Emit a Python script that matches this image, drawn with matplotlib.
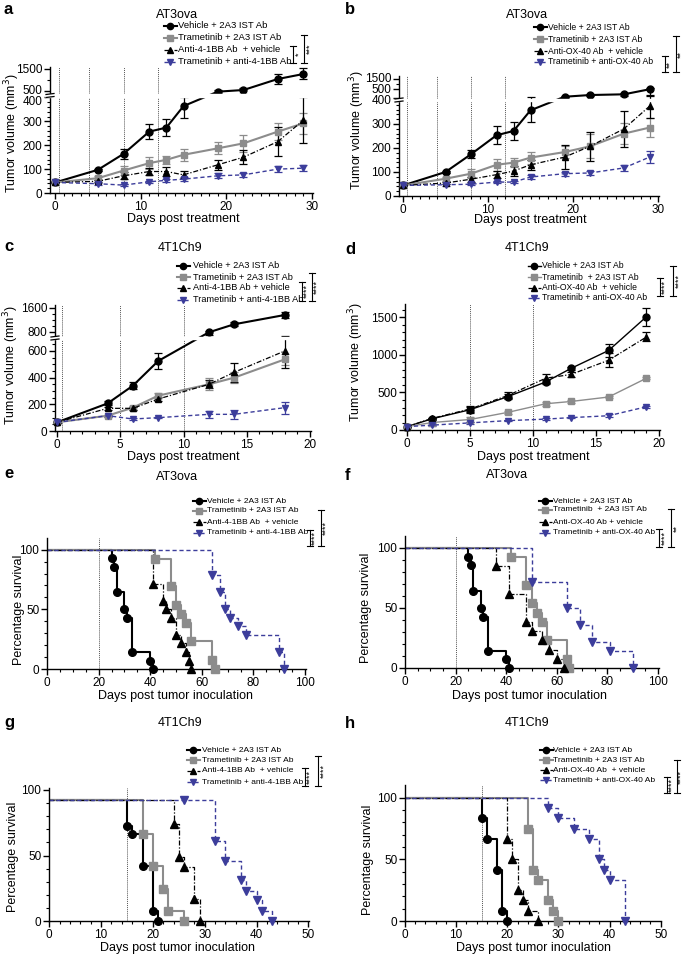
import numpy as np
import matplotlib.pyplot as plt
import matplotlib.transforms as mtrans
from matplotlib.lines import Line2D
from matplotlib.patches import Rectangle

plt.rcParams['font.family'] = ['Liberation Sans', 'DejaVu Sans']
plt.rcParams['axes.linewidth'] = 1.0

W, H = 685, 958
GREY = '#8c8c8c'
BLUE = '#3c3d9b'

# ---------------- tumour growth data (mean, sem) ----------------
a_days = [0, 5, 8, 11, 13, 15, 19, 22, 26, 29]
a_veh = [44, 97, 164, 257, 274, 364, 490, 545, 1045, 1273]
a_veh_err = [3, 5, 20, 30, 37, 50, 65, 95, 225, 250]
a_tra = [44, 62, 94, 125, 139, 160, 187, 208, 257, 292]
a_tra_err = [3, 8, 18, 25, 18, 25, 25, 35, 35, 45]
a_ab = [44, 49, 72, 90, 90, 76, 118, 150, 215, 305]
a_ab_err = [3, 5, 15, 15, 18, 15, 20, 30, 60, 95]
a_combo = [44, 39, 33, 47, 53, 58, 72, 76, 100, 104]
a_combo_err = [3, 4, 5, 5, 5, 8, 10, 8, 12, 12]

b_days = [0, 5, 8, 11, 13, 15, 19, 22, 26, 29]
b_veh = [44, 100, 174, 253, 271, 357, 414, 433, 441, 497]
b_veh_err = [3, 5, 16, 37, 37, 50, 8, 8, 20, 60]
b_tra = [44, 72, 93, 130, 139, 160, 183, 207, 260, 285]
b_tra_err = [3, 8, 20, 25, 20, 25, 25, 50, 45, 40]
b_ab = [44, 54, 70, 89, 104, 130, 162, 207, 280, 374]
b_ab_err = [3, 5, 10, 15, 20, 20, 50, 60, 75, 50]
b_combo = [44, 47, 49, 58, 58, 79, 93, 96, 117, 162]
b_combo_err = [3, 4, 5, 5, 5, 8, 8, 8, 12, 25]

c_days = [0, 4, 6, 8, 12, 14, 18]
c_veh = [65, 207, 340, 525, 795, 1057, 1367]
c_veh_err = [5, 15, 25, 60, 40, 60, 90]
c_tra = [65, 115, 175, 265, 350, 400, 537]
c_tra_err = [5, 8, 15, 20, 45, 40, 40]
c_ab = [65, 170, 170, 240, 350, 440, 600]
c_ab_err = [5, 10, 10, 15, 30, 70, 130]
c_combo = [65, 115, 90, 100, 125, 125, 175]
c_combo_err = [5, 8, 5, 5, 25, 35, 45]

d_days = [0, 2, 5, 8, 11, 13, 16, 19]
d_veh = [45, 150, 270, 445, 640, 820, 1060, 1510]
d_veh_err = [5, 15, 40, 35, 30, 20, 90, 120]
d_ab = [45, 155, 280, 460, 690, 740, 930, 1240]
d_ab_err = [5, 10, 40, 40, 60, 30, 90, 60]
d_tra = [45, 100, 140, 235, 350, 380, 440, 690]
d_tra_err = [5, 10, 30, 20, 25, 25, 10, 10]
d_combo = [45, 65, 95, 125, 145, 165, 190, 310]
d_combo_err = [3, 5, 10, 10, 10, 10, 20, 10]

# ---------------- survival data (event day, % surviving) ----------------
e_veh_t = [25, 26, 27, 30, 31, 33, 40, 41]
e_veh_s = [92.9, 85.7, 64.3, 50, 42.9, 14.3, 7.1, 0]
e_tra_t = [42, 48, 50, 52, 54, 56, 64, 65]
e_tra_s = [92.3, 69.2, 53.8, 46.2, 38.5, 23.1, 7.7, 0]
e_ab_t = [41, 45, 46, 48, 50, 52, 54, 55, 56]
e_ab_s = [71.4, 57.1, 50, 42.9, 28.6, 21.4, 14.3, 7.1, 0]
e_combo_t = [64, 67, 69, 71, 74, 77, 90, 92]
e_combo_s = [78.6, 64.3, 50, 42.9, 35.7, 28.6, 14.3, 0]

f_veh_t = [25, 26, 27, 30, 31, 33, 40, 41]
f_veh_s = [92.9, 85.7, 64.3, 50, 42.9, 14.3, 7.1, 0]
f_tra_t = [42, 48, 50, 52, 54, 56, 64, 65]
f_tra_s = [92.3, 69.2, 53.8, 46.2, 38.5, 23.1, 7.7, 0]
f_ab_t = [36, 41, 48, 50, 54, 57, 60, 63]
f_ab_s = [84.6, 61.5, 38.5, 30.8, 23.1, 15.4, 7.7, 0]
f_combo_t = [50, 64, 69, 74, 81, 90]
f_combo_s = [71.4, 50, 35.7, 21.4, 14.3, 0]

g_start = 92.1
g_veh_t = [15, 16, 18, 20, 21]
g_veh_s = [72.5, 66.2, 42, 7.9, 0]
g_tra_t = [18, 20, 22, 23, 26]
g_tra_s = [66.2, 42, 24.4, 7.9, 0]
g_ab_t = [24, 25, 26, 28, 29]
g_ab_s = [74, 49.1, 41.5, 16.8, 0]
g_combo_t = [26, 32, 34, 37, 38, 40, 41, 43]
g_combo_s = [92.1, 61, 45.8, 31.3, 23.2, 16, 7.9, 0]

h_veh_t = [15, 16, 18, 19, 20]
h_veh_s = [83.3, 66.7, 41.7, 8.3, 0]
h_ab_t = [20, 21, 22, 23, 24, 26]
h_ab_s = [66.7, 50, 25, 16.7, 8.3, 0]
h_tra_t = [24, 25, 26, 28, 29, 30]
h_tra_s = [75, 41.7, 33.3, 16.7, 8.3, 0]
h_combo_t = [28, 30, 33, 36, 38, 39, 40, 43]
h_combo_s = [91.7, 83.3, 75, 66.7, 50, 41.7, 33.3, 0]

lab_4bb = ['Vehicle + 2A3 IST Ab', 'Trametinib + 2A3 IST Ab',
           'Anti-4-1BB Ab  + vehicle', 'Trametinib + anti-4-1BB Ab']
lab_ox = ['Vehicle + 2A3 IST Ab', 'Trametinib + 2A3 IST Ab',
          'Anti-OX-40 Ab  + vehicle', 'Trametinib + anti-OX-40 Ab']

DASHDOT = (4, 1.5, 1, 1.5)
STY = [dict(color='black', marker='o', lw=1.5, dashes=None),
       dict(color=GREY, marker='s', lw=1.5, dashes=None),
       dict(color='black', marker='^', lw=0.9, dashes=DASHDOT),
       dict(color=BLUE, marker='v', lw=1.0, dashes=(3, 2))]

fig = plt.figure(figsize=(W / 100, H / 100), dpi=100)


def fx(x):
    return x / W


def fy(y):
    return 1 - y / H


def add_ax(left, top, right, bottom):
    ax = fig.add_axes([fx(left), fy(bottom), (right - left) / W, (bottom - top) / H])
    ax.spines['top'].set_visible(False)
    ax.spines['right'].set_visible(False)
    ax.tick_params(direction='out', length=4, width=1, labelsize=8.5, pad=1.5)
    ax.tick_params(which='minor', length=2, width=0.8)
    ax.patch.set_alpha(0)
    return ax


def set_x(ax, left, right, px0, px1, v1, ticks, minor):
    s = (px1 - px0) / v1
    ax.set_xlim((left - px0) / s, (right - px0) / s)
    ax.set_xticks(ticks)
    ax.set_xticks(minor, minor=True)


def broken_y(ax, vals, pos, height, ticks, minor, nudge):
    fwd = lambda v: np.interp(v, vals, pos)
    inv = lambda p: np.interp(p, pos, vals)
    ax.set_yscale('function', functions=(fwd, inv))
    ax.set_ylim(0, inv(height))
    ax.set_yticks(ticks)
    ax.set_yticklabels([str(t) for t in ticks])
    ax.set_yticks(minor, minor=True)
    ax.yaxis.set_minor_formatter(plt.NullFormatter())
    # crowded labels around the break sit a little apart, as in the original
    for lab in ax.get_yticklabels():
        dy = nudge.get(lab.get_text(), 0)
        if dy:
            lab.set_transform(lab.get_transform() +
                              mtrans.ScaledTranslation(0, -dy / 100, fig.dpi_scale_trans))


def break_mark(left, right, y):
    fig.add_artist(Rectangle((fx(left - 5), fy(y + 1.2)), (right - left + 5) / W, 2.4 / H,
                             transform=fig.transFigure, color='white', zorder=5))
    for dy in (-1.5, 1.5):
        fig.add_artist(Line2D([fx(left - 4), fx(left + 4)], [fy(y + dy + 0.5), fy(y + dy - 0.5)],
                              transform=fig.transFigure, color='black', lw=0.9, zorder=6))


def tumor(ax, days, y, err, st, lw=None):
    ax.errorbar(days, y, yerr=err, fmt='none', ecolor=st['color'], elinewidth=0.9,
                capsize=3, capthick=0.9, zorder=3)
    ln, = ax.plot(days, y, color=st['color'], lw=lw or st['lw'], marker=st['marker'],
                  ms=5, zorder=4, clip_on=False)
    if st['dashes']:
        ln.set_dashes(st['dashes'])


def surv(ax, t, s, st, start=100):
    ln, = ax.step([0] + list(t), [start] + list(s), where='post', color=st['color'], lw=st['lw'])
    if st['dashes']:
        ln.set_dashes(st['dashes'])
    ax.plot(t, s, ls='none', marker=st['marker'], color=st['color'], ms=5.5, clip_on=False, zorder=4)


def legend(xm, xt, ys, labels, fs, lws=None):
    for i, (y, lab) in enumerate(zip(ys, labels)):
        st = STY[i]
        ln = Line2D([fx(xm - 6), fx(xm + 7)], [fy(y)] * 2, transform=fig.transFigure,
                    color=st['color'], lw=(lws[i] if lws else st['lw']))
        if st['dashes']:
            ln.set_dashes(st['dashes'])
        fig.add_artist(ln)
        fig.add_artist(Line2D([fx(xm)], [fy(y)], transform=fig.transFigure, color=st['color'],
                              marker=st['marker'], ms=4.5, ls='none'))
        fig.text(fx(xt), fy(y), lab, fontsize=fs, va='center', ha='left')


def bracket(x, y0, y1, stars, xt):
    kw = dict(transform=fig.transFigure, color='black', lw=0.8)
    fig.add_artist(Line2D([fx(x)] * 2, [fy(y0), fy(y1)], **kw))
    for yy in (y0, y1):
        fig.add_artist(Line2D([fx(x - 3), fx(x + 3)], [fy(yy)] * 2, **kw))
    fig.text(fx(xt), fy((y0 + y1) / 2), stars, rotation=90, fontsize=6.5,
             ha='center', va='center')


def labels(letter, lxy, title, txy, ylab, yxy, xlab, xxy):
    fig.text(fx(lxy[0]), fy(lxy[1]), letter, fontsize=12, fontweight='bold', ha='left', va='center')
    fig.text(fx(txy[0]), fy(txy[1]), title, fontsize=9, ha='center', va='center')
    fig.text(fx(yxy[0]), fy(yxy[1]), ylab, fontsize=9, rotation=90, ha='center', va='center')
    fig.text(fx(xxy[0]), fy(xxy[1]), xlab, fontsize=9, ha='center', va='center')


def vlines(ax, xs):
    for x in xs:
        ax.axvline(x, color='#555555', lw=0.7, ls=(0, (1, 1)), zorder=1)


TV = 'Tumor volume (mm$^3$)'
DPT = 'Days post treatment'
PS = 'Percentage survival'
DPI = 'Days post tumor inoculation'

# ---------------- a ----------------
ax = add_ax(50, 67, 313, 193)
set_x(ax, 50, 313, 55, 312, 30, [0, 10, 20, 30], range(0, 31))
broken_y(ax, [-1000, 0, 400, 500, 1500, 3000], [-238.75, 0, 95.5, 102, 124, 157], 126,
         [0, 100, 200, 300, 400, 500, 1500], [v for v in range(20, 400, 20) if v % 100] + [1000],
         {'400': 3.5, '500': -1.5})
vlines(ax, [0.5, 4, 8, 12])
for y, e, st in zip([a_veh, a_tra, a_ab, a_combo], [a_veh_err, a_tra_err, a_ab_err, a_combo_err], STY):
    tumor(ax, a_days, y, e, st)
break_mark(50, 313, 95.5)
labels('a', (4, 9), 'AT3ova', (177, 15), TV, (12, 133), DPT, (183, 219))
legend(170, 178, [26, 38, 50, 62], lab_4bb, 6.8)
bracket(293, 46, 63, '*', 299)
bracket(304, 35, 63, '***', 310)

# ---------------- b ----------------
ax = add_ax(399, 76, 659, 196)
set_x(ax, 399, 659, 403, 658, 30, [0, 10, 20, 30], range(0, 31))
broken_y(ax, [-1000, 0, 390, 400, 500, 1500, 3000], [-240, 0, 93.6, 98, 107, 117, 132], 120,
         [0, 100, 200, 300, 400, 500, 1500], [v for v in range(20, 390, 20) if v % 100] + [1000],
         {'400': 2.0, '500': -0.5, '1500': -2.0})
vlines(ax, [0.5, 4, 8, 12])
for y, e, st in zip([b_veh, b_tra, b_ab, b_combo], [b_veh_err, b_tra_err, b_ab_err, b_combo_err], STY):
    tumor(ax, b_days, y, e, st)
break_mark(399, 659, 100)
labels('b', (345, 9), 'AT3ova', (527, 15), TV, (357, 130), DPT, (530, 220))
legend(540, 548, [27, 39, 51, 62], lab_ox, 6.2)
bracket(665, 56, 72, '**', 670)
bracket(676, 36, 72, '**', 681)

# ---------------- c ----------------
ax = add_ax(55, 305, 311, 431)
set_x(ax, 55, 311, 57, 310, 20, [0, 5, 10, 15, 20], range(0, 21))
broken_y(ax, [-1000, 0, 690, 800, 1600, 3000], [-133.3, 0, 92, 99, 123, 165], 126,
         [0, 200, 400, 600, 800, 1600], [v for v in range(50, 690, 50) if v % 200] + [1000, 1200, 1400],
         {})
vlines(ax, [0.4, 5, 10])
for y, e, st in zip([c_veh, c_tra, c_ab, c_combo], [c_veh_err, c_tra_err, c_ab_err, c_combo_err], STY):
    tumor(ax, c_days, y, e, st)
break_mark(55, 311, 338)
labels('c', (4, 247), '4T1Ch9', (180, 248), TV, (11, 365), DPT, (183, 457))
legend(183, 193, [266, 277, 288, 300], lab_4bb[:2] + ['Anti-4-1BB Ab + vehicle', lab_4bb[3]], 6.6)
bracket(302, 282, 301, '****', 307)
bracket(312, 273, 301, '****', 317)

# ---------------- d ----------------
ax = add_ax(405, 304, 660, 430)
set_x(ax, 405, 660, 407, 659, 20, [0, 5, 10, 15, 20], range(0, 21))
ax.set_ylim(0, 126 / (37.5 / 500))
ax.set_yticks([0, 500, 1000, 1500])
ax.set_yticks(range(100, 1700, 100), minor=True)
vlines(ax, [5, 10])
for y, e, st in zip([d_veh, d_tra, d_ab, d_combo], [d_veh_err, d_tra_err, d_ab_err, d_combo_err], STY):
    tumor(ax, d_days, y, e, st, lw=1.0 if st['lw'] > 1 else None)
labels('d', (345, 250), '4T1Ch9', (527, 248), TV, (356, 362), DPT, (533, 457))
legend(534, 542, [266, 277, 288, 298],
       ['Vehicle + 2A3 IST Ab', 'Trametinib  + 2A3 IST Ab', 'Anti-OX-40 Ab  + vehicle',
        'Trametinib + anti-OX-40 Ab'], 6.2, lws=[1, 1, 0.9, 1])
bracket(660, 278, 296, '****', 665)
bracket(673, 266, 296, '****', 679)

# ---------------- e ----------------
ax = add_ax(47, 538, 306, 669)
set_x(ax, 47, 306, 47, 305, 100, [0, 20, 40, 60, 80, 100], range(0, 101, 5))
ax.set_ylim(0, 131 / (119.3 / 100))
ax.set_yticks([0, 50, 100])
ax.set_yticks(range(10, 110, 10), minor=True)
vlines(ax, [20])
for t, s, st in zip([e_veh_t, e_tra_t, e_ab_t, e_combo_t], [e_veh_s, e_tra_s, e_ab_s, e_combo_s], STY):
    surv(ax, t, s, st)
labels('e', (4, 473), 'AT3ova', (177, 477), PS, (19, 610), DPI, (176, 696))
legend(199, 207, [501, 511, 522, 533], lab_4bb, 6)
bracket(310, 530, 546, '****', 315)
bracket(321, 510, 546, '****', 326)

# ---------------- f ----------------
ax = add_ax(405, 536, 659, 668)
set_x(ax, 405, 659, 405, 658, 100, [0, 20, 40, 60, 80, 100], range(0, 101, 5))
ax.set_ylim(0, 132 / 1.2)
ax.set_yticks([0, 50, 100])
ax.set_yticks(range(10, 110, 10), minor=True)
vlines(ax, [20])
for t, s, st in zip([f_veh_t, f_tra_t, f_ab_t, f_combo_t], [f_veh_s, f_tra_s, f_ab_s, f_combo_s], STY):
    surv(ax, t, s, st)
labels('f', (345, 475), 'AT3ova', (507, 475), PS, (366, 608), DPI, (530, 696))
legend(545, 553, [501, 510, 522, 533],
       ['Vehicle + 2A3 IST Ab', 'Trametinib  + 2A3 IST Ab', 'Anti-OX-40 Ab + vehicle',
        'Trametinib + anti-OX-40 Ab'], 6)
bracket(659, 529, 547, '****', 665)
bracket(671, 509, 547, '**', 677)

# ---------------- g ----------------
ax = add_ax(49, 788, 309, 921)
set_x(ax, 49, 309, 49.3, 308.3, 50, [0, 10, 20, 30, 40, 50], range(0, 51, 2))
ax.set_ylim(0, 133 / 1.31)
ax.set_yticks([0, 50, 100])
ax.set_yticks(range(10, 100, 10), minor=True)
vlines(ax, [15])
for t, s, st in zip([g_veh_t, g_tra_t, g_ab_t, g_combo_t], [g_veh_s, g_tra_s, g_ab_s, g_combo_s], STY):
    surv(ax, t, s, st, start=g_start)
labels('g', (4, 723), '4T1Ch9', (180, 723), PS, (13, 857), DPI, (178, 948))
legend(193, 202, [750, 760, 771, 782], lab_4bb, 6)
bracket(305, 768, 786, '****', 310)
bracket(318, 756, 786, '****', 324)

# ---------------- h ----------------
ax = add_ax(405, 785, 661, 921)
set_x(ax, 405, 661, 405, 660.7, 50, [0, 10, 20, 30, 40, 50], range(0, 51, 2))
ax.set_ylim(0, 136 / 1.233)
ax.set_yticks([0, 50, 100])
ax.set_yticks(range(10, 110, 10), minor=True)
vlines(ax, [15])
for t, s, st in zip([h_veh_t, h_tra_t, h_ab_t, h_combo_t], [h_veh_s, h_tra_s, h_ab_s, h_combo_s], STY):
    surv(ax, t, s, st)
labels('h', (345, 723), '4T1Ch9', (527, 723), PS, (368, 860), DPI, (533, 948))
legend(546, 553, [750, 760, 770, 780], lab_ox, 6)
bracket(667, 777, 793, '****', 672)
bracket(677, 760, 793, '****', 681.5)

fig.savefig('out.png', dpi=100)
